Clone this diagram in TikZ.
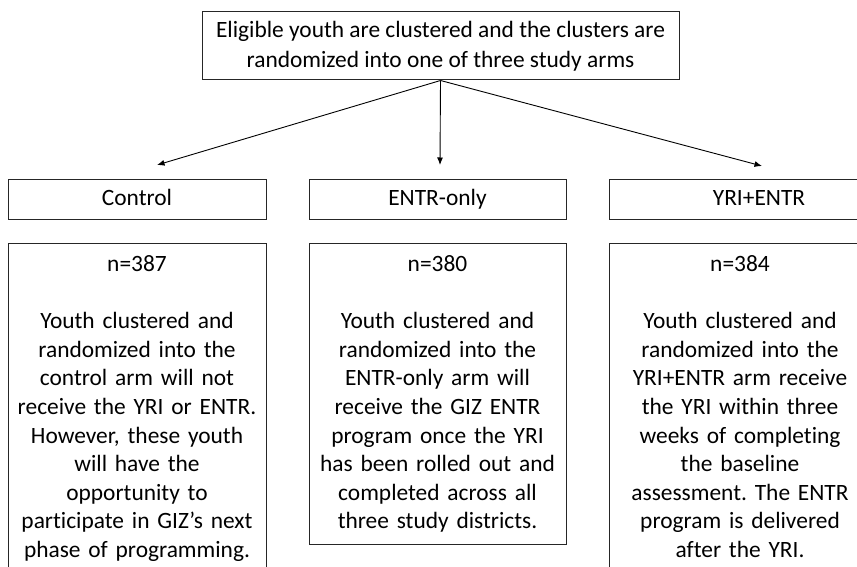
\documentclass[tikz,border=0pt]{standalone}
\usepackage{fontspec}
\setmainfont[Ligatures={NoCommon}]{Carlito}
\frenchspacing
\usetikzlibrary{arrows.meta,positioning}
\tikzset{
  base/.style={font=\fontsize{23.4}{28.6}\selectfont, text=black},
  box/.style={base, draw=black!85, line width=1pt, align=center, inner xsep=0pt},
  armlabel/.style={box, minimum height=39pt, text height=15pt, text depth=4pt},
  armtext/.style={box, anchor=north, inner ysep=12pt},
  arrow/.style={-{Latex[length=7.5pt,width=6pt]}, line width=0.9pt, draw=black},
}

\begin{document}
\begin{tikzpicture}[x=1pt,y=-1pt]
  \useasboundingbox (0,0) rectangle (857,567);
  \clip (0,0) rectangle (857,567);

  \node[box,font=\fontsize{23.4}{30}\selectfont,minimum width=477pt,minimum height=68pt] (top) at (440.5,46) {Eligible youth are clustered and the clusters are\\randomized into one of three study arms};

  \node[armlabel,minimum width=258pt] (ctrl) at (137,199.5) {Control};
  \node[armlabel,minimum width=257pt] (entr) at (437.5,199.5) {ENTR-only};
  \node[armlabel,minimum width=300pt] (yri) at (759,199.5) {YRI+ENTR};

  \node[armtext,text width=258pt] (ctrltext) at (137,243) {n=387\\[28.6pt]Youth clustered and\\randomized into the\\control arm will not\\receive the YRI or ENTR.\\However, these youth\\will have the\\opportunity to\\participate in GIZ’s next\\phase of programming.};
  \node[armtext,text width=257pt] (entrtext) at (437.5,243) {n=380\\[28.6pt]Youth clustered and\\randomized into the\\ENTR-only arm will\\receive the GIZ ENTR\\program once the YRI\\has been rolled out and\\completed across all\\three study districts.};
  \node[armtext,text width=262pt] (yritext) at (740,243) {n=384\\[28.6pt]Youth clustered and\\randomized into the\\YRI+ENTR arm receive\\the YRI within three\\weeks of completing\\the baseline\\assessment. The ENTR\\program is delivered\\after the YRI.\strut};

  \coordinate (tipC) at (157,165);
  \coordinate (tipE) at (440,165);
  \coordinate (tipY) at (762,166);
  \draw[arrow] (top.south) -- (tipC);
  \draw[arrow] (top.south) -- (tipE);
  \draw[arrow] (top.south) -- (tipY);
\end{tikzpicture}
\end{document}
